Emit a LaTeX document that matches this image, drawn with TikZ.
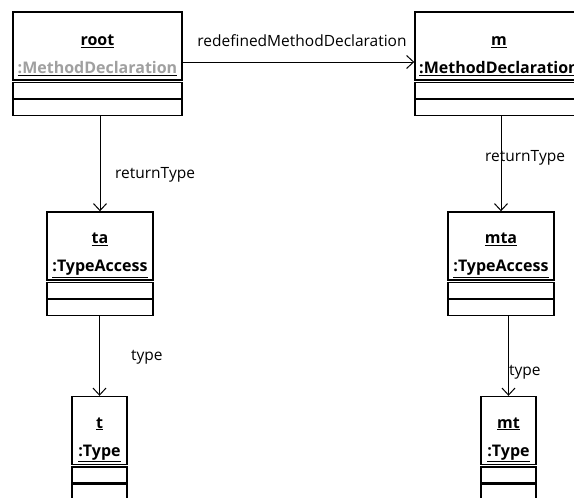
\documentclass[tikz,border=0pt]{standalone}
\usepackage{fontspec}
\setmainfont{Open Sans}
\usetikzlibrary{arrows.meta,positioning}
\definecolor{fadegray}{RGB}{160,160,160}
\tikzset{
  objhead/.style={draw, line width=1.4pt, minimum width=#1, minimum height=68pt,
    inner sep=0pt, align=center, fill=white, font=\fontsize{16}{19}\selectfont},
  compart/.style={draw, line width=1.2pt, minimum width=#1, minimum height=16pt,
    inner sep=0pt, fill=white},
  link/.style={line width=1pt, -{Straight Barb[length=7pt,width=13pt]}},
  role/.style={inner sep=0pt, anchor=west, font=\fontsize{15.5}{18}\selectfont}
}
\newcommand{\objname}[2]{\rule{0pt}{29pt}\underline{\textbf{#1}}\\[9pt]\underline{\textbf{#2}}}
\begin{document}
\begin{tikzpicture}[x=1pt,y=-1pt]
  \clip (0,0) rectangle (574,498);
  \fill[white] (0,0) rectangle (574,498);

  % objects
  \node[objhead=169pt] (root) at (97.5,46) {\objname{root}{\color{fadegray}:MethodDeclaration}};
  \node[compart=169pt, below=1.2pt of root] (rootA) {};
  \node[compart=169pt, below=0pt of rootA] (rootB) {};

  \node[objhead=168pt] (m) at (499,46) {\objname{m}{:MethodDeclaration}};
  \node[compart=168pt, below=1.2pt of m] (mA) {};
  \node[compart=168pt, below=0pt of mA] (mB) {};

  \node[objhead=106pt] (ta) at (100,246) {\objname{ta}{:TypeAccess}};
  \node[compart=106pt, below=1.2pt of ta] (taA) {};
  \node[compart=106pt, below=0pt of taA] (taB) {};

  \node[objhead=106pt] (mta) at (501,246) {\objname{mta}{:TypeAccess}};
  \node[compart=106pt, below=1.2pt of mta] (mtaA) {};
  \node[compart=106pt, below=0pt of mtaA] (mtaB) {};

  \node[objhead=55pt] (t) at (99.5,430.5) {\objname{t}{:Type}};
  \node[compart=55pt, below=1.2pt of t] (tA) {};
  \node[compart=55pt, below=0pt of tA] (tB) {};

  \node[objhead=55pt] (mt) at (508.5,430.5) {\objname{mt}{:Type}};
  \node[compart=55pt, below=1.2pt of mt] (mtA) {};
  \node[compart=55pt, below=0pt of mtA] (mtB) {};

  % links
  \draw[link] ([yshift=-16pt]root.east) -- ([yshift=-16pt]m.west);
  \draw[link] (rootB.south -| ta.north) -- (ta.north);
  \draw[link] (mB.south -| mta.north) -- (mta.north);
  \draw[link] (taB.south -| t.north) -- (t.north);
  \draw[link] (mtaB.south -| mt.north) -- (mt.north);

  % roles
  \node[role, anchor=center] (redef) at (302,41) {redefinedMethodDeclaration};
  \node[role] (rtype) at (115,175) {returnType};
  \node[role] (mrtype) at (485,158) {returnType};
  \node[role] (ttype) at (131,357) {type};
  \node[role] (mttype) at (509,372) {type};
\end{tikzpicture}
\end{document}
